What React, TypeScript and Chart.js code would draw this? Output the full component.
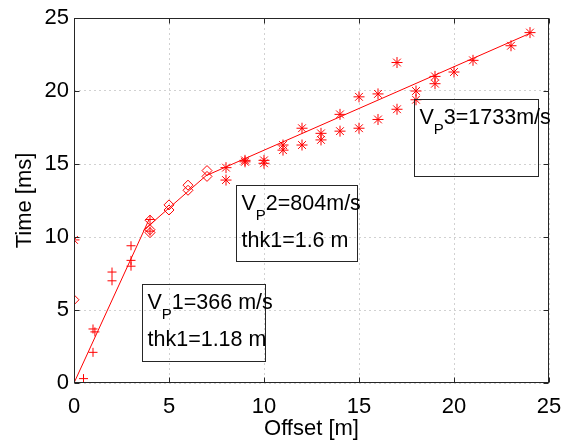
import React, { useEffect, useRef } from "react";
import { Chart, registerables } from "chart.js";

Chart.register(...registerables);

// ---- data ----
const plusOffsets = [0, 0.5, 1, 1.1, 1, 2, 2, 3, 3, 3, 4, 4];
const plusTimes = [0, 0.3, 3.7, 3.5, 2.1, 7.0, 7.6, 8.4, 8.0, 9.4, 11.2, 10.4];

const diamondOffsets = [0, 4, 4, 4, 5, 5, 6, 6, 7, 7];
const diamondTimes = [5.7, 11.15, 10.5, 10.3, 12.2, 11.85, 13.55, 13.2, 14.55, 14.15];

const starOffsets = [0, 8, 8, 9, 9, 10, 10, 11, 11, 12, 12, 13, 13, 14, 14, 15, 15, 16, 16, 17, 17, 18, 18, 19, 19, 20, 21, 23, 24];
const starTimes = [9.8, 14.75, 13.9, 15.25, 15.15, 15.25, 15.05, 16.3, 15.95, 17.45, 16.3, 17.1, 16.65, 18.4, 17.25, 19.6, 17.45, 19.8, 18.05, 21.95, 18.75, 20.0, 19.4, 21.0, 20.5, 21.3, 22.1, 23.1, 24.0];

const fit1Offsets = [0, 3.95];
const fit1Times = [0, 11.2];
const fit2Offsets = [3.65, 6.95];
const fit2Times = [10.45, 14.2];
const fit3Offsets = [6.95, 24];
const fit3Times = [14.2, 23.95];

const xTicks = [0, 5, 10, 15, 20, 25];
const yTicks = [0, 5, 10, 15, 20, 25];

const labelLines1 = [{ main: "V", sub: "P", rest: "1=366 m/s" }, { main: "thk1=1.18 m" }];
const labelLines2 = [{ main: "V", sub: "P", rest: "2=804m/s" }, { main: "thk1=1.6 m" }];
const labelLines3 = [{ main: "V", sub: "P", rest: "3=1733m/s" }];

// box extents in data units (x0,x1,yTop,yBottom)
const boxes = [
  { x0: 3.58, x1: 10.05, yTop: 6.78, yBot: 1.5, lines: labelLines1 },
  { x0: 8.51, x1: 14.89, yTop: 13.56, yBot: 8.36, lines: labelLines2 },
  { x0: 17.91, x1: 24.42, yTop: 19.45, yBot: 14.18, lines: labelLines3 },
];

const RED = "#ff0000";
const FONT = "'Liberation Sans', Arial, Helvetica, sans-serif";

const zip = (xs: number[], ys: number[]) => xs.map((x, i) => ({ x, y: ys[i] }));

const framePlugin = {
  id: "frame",
  afterDraw(chart: any) {
    const ctx = chart.ctx;
    const { left, right, top, bottom } = chart.chartArea;
    const xs = chart.scales.x;
    const ys = chart.scales.y;
    ctx.save();
    ctx.strokeStyle = "#262626";
    ctx.lineWidth = 1;
    const L = Math.round(left) + 0.5;
    const R = Math.round(right) - 0.5;
    const T = Math.round(top) + 0.5;
    const B = Math.round(bottom) - 0.5;
    ctx.strokeRect(L, T, R - L, B - T);
    ctx.beginPath();
    const tl = 5;
    xTicks.forEach((v) => {
      const px = Math.round(xs.getPixelForValue(v)) + 0.5;
      ctx.moveTo(px, B);
      ctx.lineTo(px, B - tl);
      ctx.moveTo(px, T);
      ctx.lineTo(px, T + tl);
    });
    yTicks.forEach((v) => {
      const py = Math.round(ys.getPixelForValue(v)) + 0.5;
      ctx.moveTo(L, py);
      ctx.lineTo(L + tl, py);
      ctx.moveTo(R, py);
      ctx.lineTo(R - tl, py);
    });
    ctx.stroke();

    // annotation boxes
    boxes.forEach((b) => {
      const bx0 = Math.round(xs.getPixelForValue(b.x0)) + 0.5;
      const bx1 = Math.round(xs.getPixelForValue(b.x1)) + 0.5;
      const by0 = Math.round(ys.getPixelForValue(b.yTop)) + 0.5;
      const by1 = Math.round(ys.getPixelForValue(b.yBot)) + 0.5;
      ctx.strokeStyle = "#262626";
      ctx.strokeRect(bx0, by0, bx1 - bx0, by1 - by0);
      ctx.fillStyle = "#000000";
      ctx.textBaseline = "alphabetic";
      ctx.textAlign = "left";
      b.lines.forEach((ln: any, i: number) => {
        let tx = bx0 + 5;
        const ty = by0 + 24 + i * 37;
        ctx.font = `21.5px ${FONT}`;
        ctx.fillText(ln.main, tx, ty);
        tx += ctx.measureText(ln.main).width;
        if (ln.sub) {
          ctx.font = `15px ${FONT}`;
          ctx.fillText(ln.sub, tx, ty + 10);
          tx += ctx.measureText(ln.sub).width;
          ctx.font = `21.5px ${FONT}`;
          ctx.fillText(ln.rest, tx, ty);
        }
      });
    });
    ctx.restore();
  },
};

export default function App() {
  const ref = useRef<HTMLCanvasElement>(null);
  useEffect(() => {
    document.body.style.margin = "0";
    const canvas = ref.current!;
    const chart = new Chart(canvas, {
      type: "scatter",
      data: {
        datasets: [
          { data: zip(fit1Offsets, fit1Times), showLine: true, borderColor: RED, borderWidth: 1, pointRadius: 0 },
          { data: zip(fit2Offsets, fit2Times), showLine: true, borderColor: RED, borderWidth: 1, pointRadius: 0 },
          { data: zip(fit3Offsets, fit3Times), showLine: true, borderColor: RED, borderWidth: 1, pointRadius: 0 },
          { data: zip(plusOffsets, plusTimes), pointStyle: "cross", pointRadius: 4.5, borderColor: RED, backgroundColor: RED, pointBorderWidth: 1 },
          { data: zip(diamondOffsets, diamondTimes), pointStyle: "rectRot", pointRadius: 5, borderColor: RED, backgroundColor: "rgba(0,0,0,0)", pointBorderWidth: 1 },
          { data: zip(starOffsets, starTimes), pointStyle: "star", pointRadius: 5.5, borderColor: RED, backgroundColor: RED, pointBorderWidth: 1 },
        ] as any,
      },
      options: {
        animation: false,
        responsive: false,
        devicePixelRatio: 1,
        layout: { padding: { left: 0, top: 18, right: 16, bottom: 0 } },
        plugins: { legend: { display: false }, tooltip: { enabled: false } },
        scales: {
          x: {
            type: "linear",
            min: 0,
            max: 25,
            afterFit: (s: any) => { s.height = 57; },
            afterBuildTicks: (s: any) => { s.ticks = xTicks.map((v) => ({ value: v })); },
            ticks: { padding: 0, color: "#000", font: { family: FONT, size: 22 } },
            grid: { drawTicks: true, tickLength: 11, tickColor: "rgba(0,0,0,0)", color: "rgba(0,0,0,0.18)" },
            border: { display: false, dash: [2, 3] },
            title: { display: true, text: "Offset [m]", color: "#000", padding: { top: 0, bottom: 0 }, font: { family: FONT, size: 22, lineHeight: 1 } },
          },
          y: {
            type: "linear",
            min: 0,
            max: 25,
            afterFit: (s: any) => { s.width = 74; },
            afterBuildTicks: (s: any) => { s.ticks = yTicks.map((v) => ({ value: v })); },
            ticks: { padding: 0, color: "#000", font: { family: FONT, size: 22 } },
            grid: { drawTicks: true, tickLength: 5, tickColor: "rgba(0,0,0,0)", color: "rgba(0,0,0,0.18)" },
            border: { display: false, dash: [2, 3] },
            title: { display: true, text: "Time [ms]", color: "#000", padding: { top: 14, bottom: 0 }, font: { family: FONT, size: 22, lineHeight: 1 } },
          },
        },
      },
      plugins: [framePlugin],
    });
    return () => chart.destroy();
  }, []);
  return (
    <div style={{ position: "fixed", left: 0, top: 0, width: 565, height: 440, background: "#fff" }}>
      <canvas ref={ref} width={565} height={440} style={{ width: 565, height: 440 }} />
    </div>
  );
}
